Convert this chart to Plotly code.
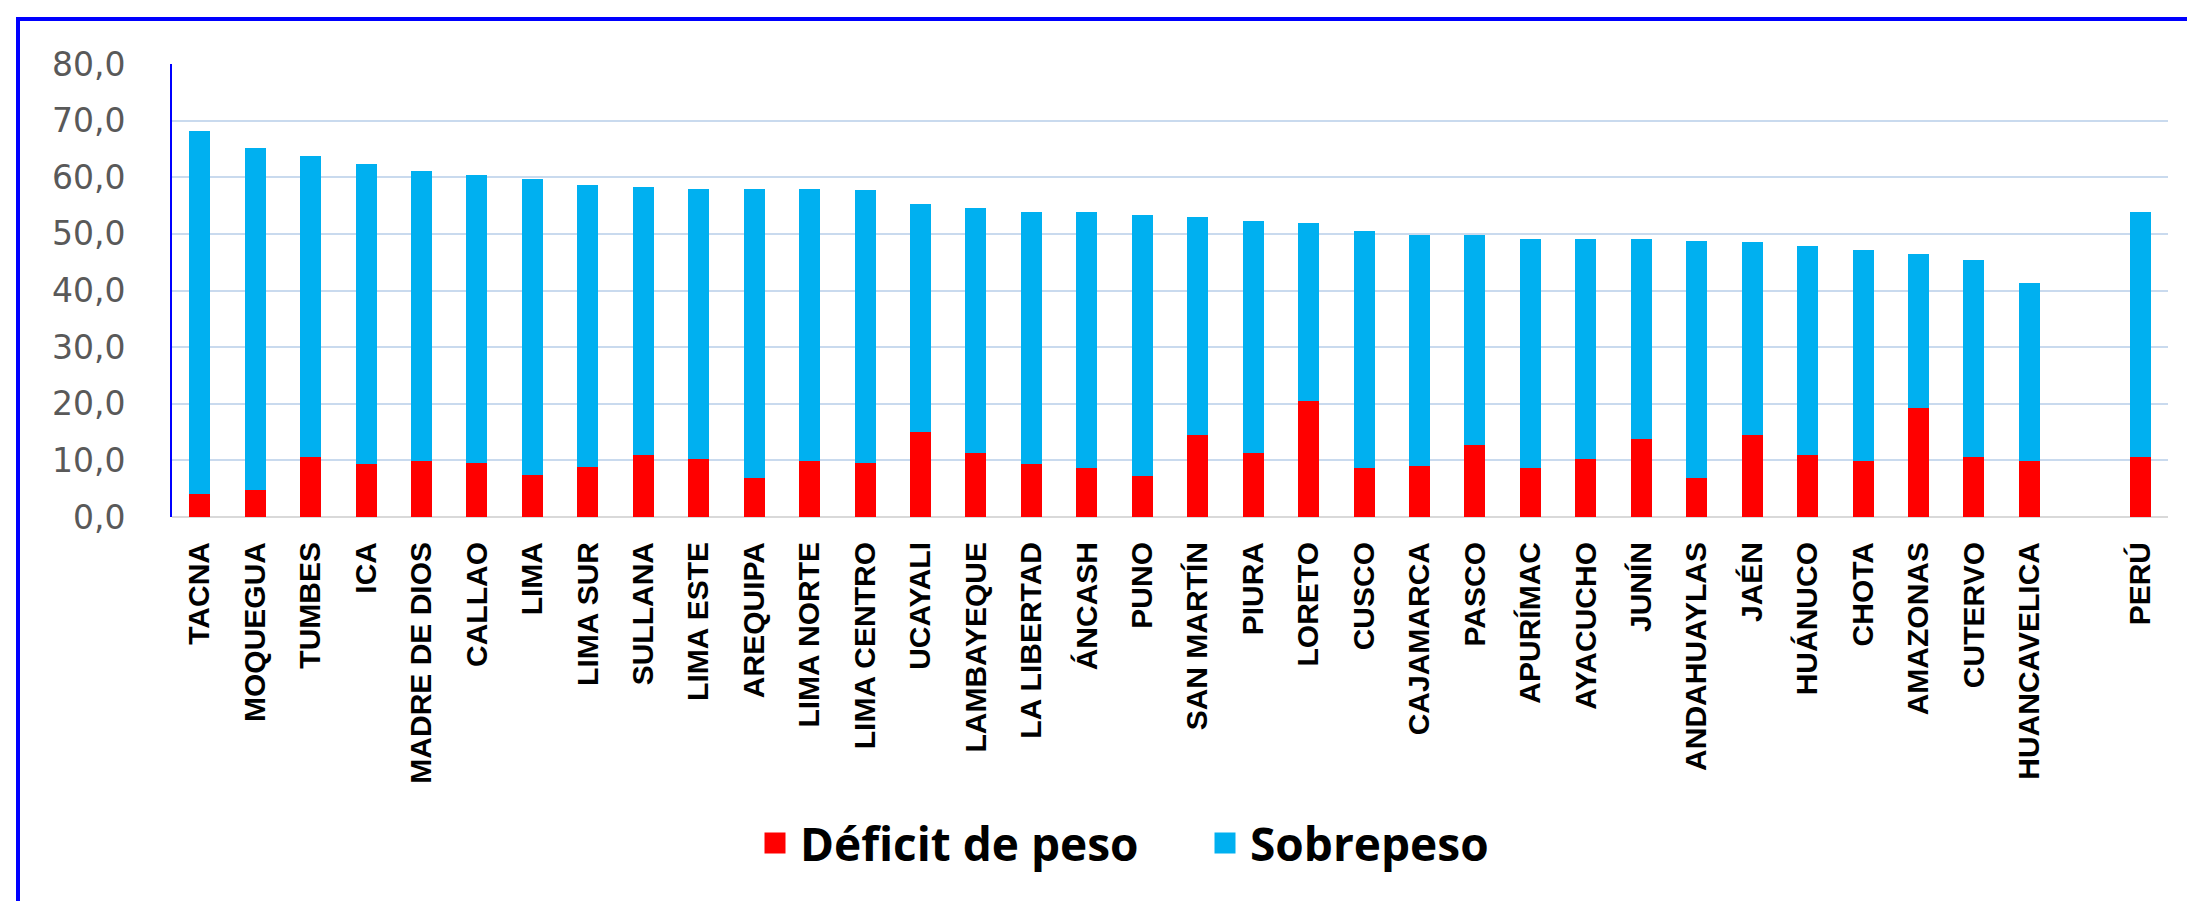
import plotly.graph_objects as go

categories = ["TACNA", "MOQUEGUA", "TUMBES", "ICA", "MADRE DE DIOS", "CALLAO", "LIMA",
              "LIMA SUR", "SULLANA", "LIMA ESTE", "AREQUIPA", "LIMA NORTE", "LIMA CENTRO",
              "UCAYALI", "LAMBAYEQUE", "LA LIBERTAD", "ÁNCASH", "PUNO", "SAN MARTÍN", "PIURA",
              "LORETO", "CUSCO", "CAJAMARCA", "PASCO", "APURÍMAC", "AYACUCHO", "JUNÍN",
              "ANDAHUAYLAS", "JAÉN", "HUÁNUCO", "CHOTA", "AMAZONAS", "CUTERVO", "HUANCAVELICA",
              " ", "PERÚ"]

deficit_peso = [4.1, 4.8, 10.6, 9.3, 9.9, 9.6, 7.5, 8.9, 11.0, 10.3, 6.9, 9.9, 9.6,
                15.1, 11.3, 9.3, 8.6, 7.2, 14.4, 11.3, 20.5, 8.6, 9.0, 12.7, 8.6, 10.3, 13.7,
                6.9, 14.4, 11.0, 9.9, 19.2, 10.6, 9.9, None, 10.6]

sobrepeso = [64.1, 60.4, 53.2, 53.1, 51.2, 50.8, 52.2, 49.8, 47.3, 47.7, 51.1, 48.1, 48.1,
             40.2, 43.3, 44.6, 45.3, 46.1, 38.5, 40.9, 31.4, 41.9, 40.8, 37.1, 40.5, 38.8, 35.4,
             41.9, 34.1, 36.8, 37.2, 27.2, 34.8, 31.4, None, 43.3]

series_names = ["Déficit de peso", "Sobrepeso"]
series_colors = ["#FF0000", "#00B0F0"]

y_ticks = [0, 10, 20, 30, 40, 50, 60, 70, 80]
y_tick_labels = ["0,0", "10,0", "20,0", "30,0", "40,0", "50,0", "60,0", "70,0", "80,0"]

W, H = 2195, 901
ML, MR, MT, MB = 164, 35, 56, 392
pw, ph = W - ML - MR, H - MT - MB

fig = go.Figure()
for vals, name, col in zip([deficit_peso, sobrepeso], series_names, series_colors):
    fig.add_trace(go.Bar(x=categories, y=vals, name=name, showlegend=False,
                         marker=dict(color=col, line=dict(width=0))))
# legend entries with larger square swatches
for name, col in zip(series_names, series_colors):
    fig.add_trace(go.Scatter(x=[None], y=[None], mode="markers", name="<b>" + name + "</b>",
                             marker=dict(symbol="square", size=16, color=col,
                                         line=dict(color=col, width=5)),
                             hoverinfo="skip"))

def px_x(x):
    return (x - ML) / pw

def px_y(y):
    return (H - MB - y) / ph

fig.update_layout(
    width=W, height=H,
    margin=dict(l=ML, r=MR, t=MT, b=MB),
    barmode="stack",
    bargap=0.62,
    plot_bgcolor="white",
    paper_bgcolor="white",
    showlegend=True,
    legend=dict(orientation="h", x=px_x(1192), y=px_y(835), xanchor="center", yanchor="middle",
                traceorder="normal", font=dict(family="Open Sans", size=46, color="black"),
                entrywidth=395, itemwidth=40, itemsizing="trace"),
    shapes=[dict(type="rect", xref="paper", yref="paper",
                 x0=px_x(10), y0=px_y(910), x1=px_x(2210), y1=px_y(11),
                 line=dict(color="#0000FF", width=4), fillcolor="rgba(0,0,0,0)", layer="below")],
)

fig.update_xaxes(type="category", categoryorder="array", categoryarray=categories,
                 tickangle=-90,
                 tickfont=dict(family="Liberation Sans", size=30, color="black", weight="bold"),
                 showgrid=False, showline=False, ticks="", ticklabelstandoff=18,
                 range=[-0.5, len(categories) - 0.5])
fig.update_yaxes(range=[0, 80], tickvals=y_ticks, ticktext=y_tick_labels,
                 tickfont=dict(family="DejaVu Sans", size=33, color="#595959"),
                 showgrid=True, gridcolor="#C9DAEE", gridwidth=2,
                 zeroline=True, zerolinecolor="#D9D9D9", zerolinewidth=2,
                 showline=True, linecolor="#0000FF", linewidth=2,
                 ticks="", ticklabelstandoff=38)

fig.write_html("out.html")
